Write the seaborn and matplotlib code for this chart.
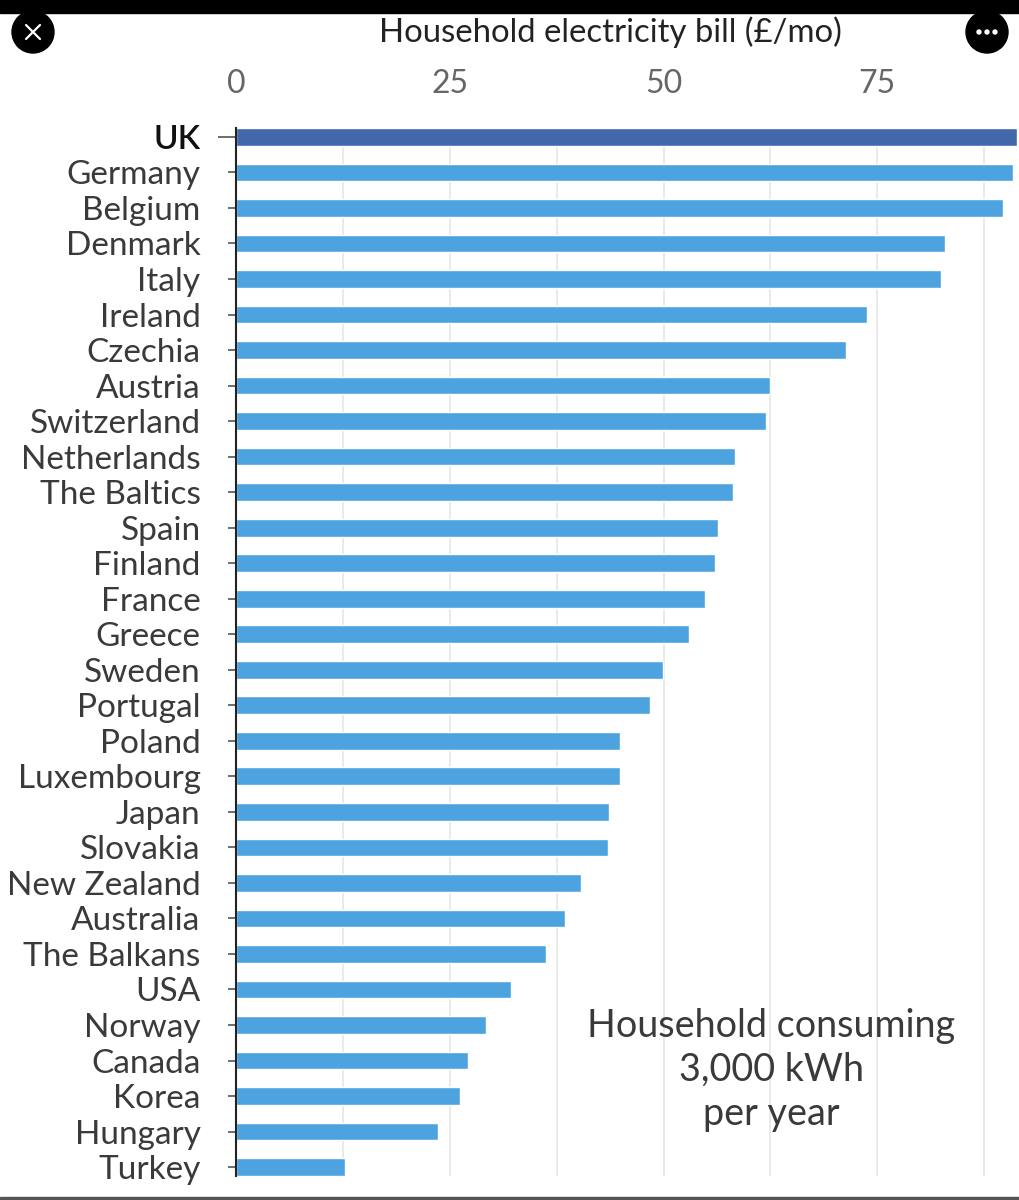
import matplotlib
matplotlib.use("Agg")
import matplotlib.pyplot as plt
import pandas as pd
import seaborn as sns
from matplotlib.lines import Line2D
from matplotlib.patches import Circle, Rectangle

countries = ["UK", "Germany", "Belgium", "Denmark", "Italy", "Ireland", "Czechia", "Austria",
             "Switzerland", "Netherlands", "The Baltics", "Spain", "Finland", "France", "Greece",
             "Sweden", "Portugal", "Poland", "Luxembourg", "Japan", "Slovakia", "New Zealand",
             "Australia", "The Balkans", "USA", "Norway", "Canada", "Korea", "Hungary", "Turkey"]
bills = [91.4, 90.9, 89.7, 82.9, 82.5, 73.8, 71.3, 62.4, 62.0, 58.4, 58.1, 56.4, 56.0, 54.9, 53.0,
         49.9, 48.4, 44.9, 44.9, 43.6, 43.5, 40.4, 38.5, 36.3, 32.2, 29.2, 27.1, 26.2, 23.6, 12.7]
x_ticks = [0, 25, 50, 75]
grid_values = [12.5, 25, 37.5, 50, 62.5, 75, 87.5]
note_lines = ["Household consuming", "3,000 kWh", "per year"]

W, H = 1019, 1200
sns.set_theme(style="white")
plt.rcParams["font.family"] = ["Lato", "DejaVu Sans"]

df = pd.DataFrame({"country": countries, "bill": bills})
df["group"] = ["UK" if c == "UK" else "other" for c in countries]

fig = plt.figure(figsize=(W / 100, H / 100), dpi=100)
ax = fig.add_axes([236 / W, 1 - 1176 / H, (W - 236) / W, (1176 - 128) / H])

ax.vlines(grid_values, -0.25, 29.25, color="#e8e8e8", lw=1.3, zorder=0)
sns.barplot(data=df, x="bill", y="country", hue="group", dodge=False, legend=False, saturation=1,
            palette={"UK": "#4267ab", "other": "#4da3e0"}, width=0.5, ax=ax, zorder=2)

ax.set_xlim(0, (W - 236) / 8.55)
ax.set_ylim(29.25, -0.25)
ax.set_xlabel("")
ax.set_ylabel("")

ax.xaxis.tick_top()
ax.set_xticks(x_ticks)
ax.set_xticklabels([str(t) for t in x_ticks], fontsize=23, color="#666666")
ax.tick_params(axis="x", length=0, pad=21)

ax.tick_params(axis="y", left=True, length=6, width=1.2, color="#555555", pad=19.5)
ax.set_yticks(range(len(countries)))
ax.set_yticklabels(countries, fontsize=24, color="#3a3a3a")
uk_label = ax.get_yticklabels()[0]
uk_label.set_color("#111111")
uk_label.set_fontweight("semibold")
ax.yaxis.get_major_ticks()[0].tick1line.set_markersize(13)
ax.yaxis.get_major_ticks()[0].tick1line.set_color("#222222")

for s in ["top", "right", "bottom"]:
    ax.spines[s].set_visible(False)
ax.spines["left"].set_color("#222222")
ax.spines["left"].set_linewidth(1.5)
ax.spines["left"].set_zorder(3)

for i, line in enumerate(note_lines):
    ax.text(62.6, 25.03 + i * 1.24, line, fontsize=27.2, color="#3a3a3a", ha="center", va="center", zorder=4)

fig.text(610 / W, 1 - 32 / H, "Household electricity bill (£/mo)", fontsize=23.7, color="#222222",
         ha="center", va="center")


# screenshot chrome
def to_fig(x, y):
    return x / W, 1 - y / H


fig.add_artist(Rectangle((0, 1 - 13 / H), 1, 13 / H, transform=fig.transFigure, color="black"))
fig.add_artist(Rectangle((0, 0), 1, 3 / H, transform=fig.transFigure, color="#555555"))
for cx in [33, 987]:
    fig.add_artist(Circle((cx, H - 32), 21, transform=None, color="black", zorder=5))
for dx, dy in [(1, 1), (1, -1)]:
    x0, y0 = to_fig(33 - 7 * dx, 32 - 7 * dy)
    x1, y1 = to_fig(33 + 7 * dx, 32 + 7 * dy)
    fig.add_artist(Line2D([x0, x1], [y0, y1], transform=fig.transFigure, color="white", lw=1.6, zorder=6))
for dx in [-8, 0, 8]:
    fig.add_artist(Circle((987 + dx, H - 32), 2, transform=None, color="white", zorder=6))

fig.savefig("out.png", dpi=100, facecolor="white")
